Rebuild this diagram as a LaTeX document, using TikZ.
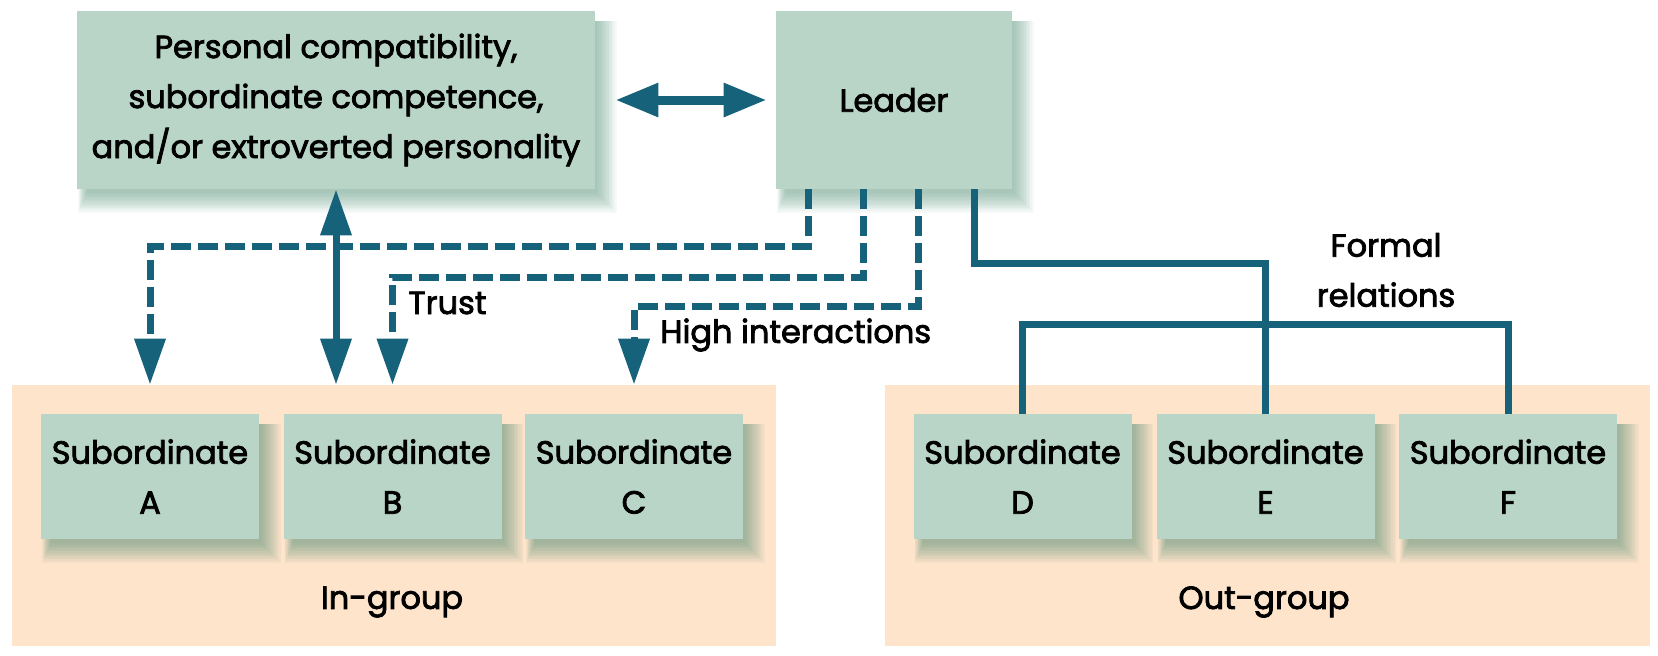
\documentclass[tikz,border=0pt]{standalone}
\usepackage{fontspec}
\setmainfont{Poppins}[FakeBold=2.5]
\usetikzlibrary{arrows.meta,calc,backgrounds}
\definecolor{boxg}{HTML}{B9D5C7}
\definecolor{peach}{HTML}{FDE4CB}
\definecolor{lineteal}{HTML}{16627A}
\definecolor{shadg}{HTML}{4F8E74}
\pgfdeclarelayer{shadowl}
\pgfsetlayers{background,shadowl,main}
\tikzset{
  gbox/.style={fill=boxg, inner sep=0pt, align=center, font=\fontsize{16}{25}\selectfont},
  subbox/.style={gbox, minimum width=109pt, minimum height=62.5pt},
  grp/.style={fill=peach, inner sep=0pt, minimum width=382pt, minimum height=130.5pt},
  lbl/.style={font=\fontsize{16}{25}\selectfont, inner sep=0pt},
  conn/.style={draw=lineteal, line width=3.5pt, line join=miter},
  dashconn/.style={conn, dash pattern=on 10pt off 3.5pt},
  tipv/.style={-{Triangle[length=23pt,width=15pt]}},
  tipboth/.style={{Triangle[length=23pt,width=15pt]}-{Triangle[length=23pt,width=15pt]}},
  tiph/.style={{Triangle[length=21.5pt,width=16pt]}-{Triangle[length=21.5pt,width=16pt]}},
}
\newcommand\gshadow[1]{%
  \foreach \s in {0,1,...,12}{%
    \fill[shadg, opacity=0.05] ([shift={({5pt-0.35*\s pt},{-5pt})}]#1.north west) rectangle ([shift={({1pt+0.8*\s pt},{-2pt-0.8*\s pt})}]#1.south east);
  }}
\begin{document}
\begin{tikzpicture}[x=0.5pt,y=-0.5pt]
\useasboundingbox (0,0) rectangle (1658,655);
\begin{pgfonlayer}{background}
\node[grp] (ingroup) at (394,515.5) {};
\node[grp, minimum width=382.5pt] (outgroup) at (1267.5,515.5) {};
\end{pgfonlayer}
\node[gbox, minimum width=259pt, minimum height=89pt] (pers) at (336,100) {Personal compatibility,\\subordinate competence,\\and/or extroverted personality};
\node[gbox, minimum width=118pt, minimum height=89pt] (leader) at (894,100) {Leader};
\node[subbox] (subA) at (150,476.5) {Subordinate\\A};
\node[subbox] (subB) at (392.5,476.5) {Subordinate\\B};
\node[subbox] (subC) at (634,476.5) {Subordinate\\C};
\node[subbox] (subD) at (1022.5,476.5) {Subordinate\\D};
\node[subbox] (subE) at (1265.5,476.5) {Subordinate\\E};
\node[subbox] (subF) at (1508,476.5) {Subordinate\\F};
\begin{pgfonlayer}{shadowl}
\foreach \n in {pers,leader,subA,subB,subC,subD,subE,subF}{\gshadow{\n}}
\end{pgfonlayer}
\node[lbl] (inlbl) at (392,602) {In-group};
\node[lbl] (outlbl) at (1264,602) {Out-group};
\node[lbl, anchor=west] (trust) at (408,303) {Trust};
\node[lbl, anchor=west] (high) at (660,335) {High interactions};
\node[lbl, align=center] (formal) at (1386,270) {Formal\\relations};
\draw[conn, line width=4.5pt, tiph] ([xshift=10pt]pers.east) -- ([xshift=-4.5pt]leader.west);
\draw[dashconn, tipv] ([xshift=16.5pt]leader.south west) -- ++(0,57) -| (subA.north |- ingroup.north);
\draw[dashconn, tipv] ([xshift=44pt]leader.south west) -- ++(0,88) -| (subB.north |- ingroup.north);
\draw[dashconn, tipv] ([xshift=71.5pt]leader.south west) -- ++(0,117) -| (subC.north |- ingroup.north);
\draw[conn] ([xshift=99.5pt]leader.south west) -- ++(0,74) -| (subE.north);
\draw[conn] (subD.north) -- ++(0,-89) -| (subF.north);
\draw[conn, tipboth] (pers.south) -- (pers.south |- ingroup.north);
\end{tikzpicture}
\end{document}
